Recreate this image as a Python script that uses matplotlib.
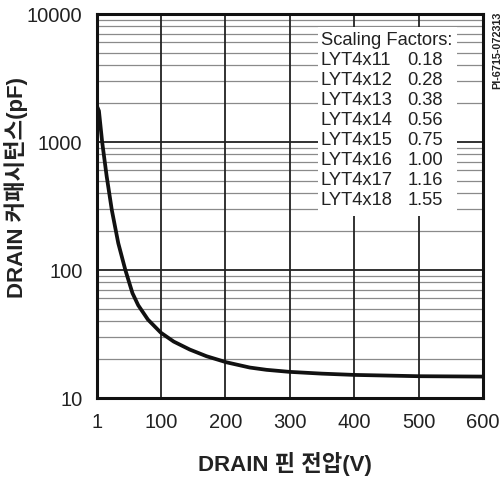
import matplotlib
matplotlib.use('Agg')
import matplotlib.pyplot as plt
from matplotlib.patches import Rectangle

# Curve (drain voltage V, capacitance pF)
voltage = [1, 4, 9, 16, 24, 34, 45, 56, 65, 80, 100, 120, 145, 171, 202, 238, 264, 300, 350, 400, 500, 600]
capacitance = [1900, 1750, 1000, 540, 294, 162, 100, 66, 53, 41, 32.4, 27.6, 23.9, 21.2, 19.0, 17.3, 16.6, 16.0, 15.5, 15.15, 14.8, 14.7]

x_ticks = [1, 100, 200, 300, 400, 500, 600]
y_ticks = [10, 100, 1000, 10000]

parts = ['LYT4x11', 'LYT4x12', 'LYT4x13', 'LYT4x14', 'LYT4x15', 'LYT4x16', 'LYT4x17', 'LYT4x18']
factors = ['0.18', '0.28', '0.38', '0.56', '0.75', '1.00', '1.16', '1.55']

LATIN = 'Liberation Sans'
KR = ['Liberation Sans', 'Noto Sans CJK KR']

fig = plt.figure(figsize=(5.03, 4.83), dpi=100)
ax = fig.add_axes([97 / 503, 85 / 483, 386 / 503, 384 / 483])

ax.set_yscale('log')
ax.set_xlim(1, 600)
ax.set_ylim(10, 10000)

# grid: minor log lines grey, decades and voltage lines black
for dec in [10, 100, 1000]:
    for m in range(2, 10):
        ax.axhline(dec * m, color='#8a8a8a', lw=0.9, zorder=1)
for dec in [100, 1000]:
    ax.axhline(dec, color='#222222', lw=1.3, zorder=1)
for xv in x_ticks[1:-1]:
    ax.axvline(xv, color='#222222', lw=1.3, zorder=1)

ax.plot(voltage, capacitance, color='#111111', lw=2.7, zorder=3,
        solid_capstyle='butt', solid_joinstyle='round')

# white box for the scaling factor table
ax.add_patch(Rectangle((0.573, 0.474), 0.36, 0.492, transform=ax.transAxes,
                       facecolor='white', edgecolor='none', zorder=2))
ax.text(0.58, 0.932, 'Scaling Factors:', transform=ax.transAxes, fontsize=13.2,
        family=LATIN, va='center', ha='left', color='#222222', zorder=4)
for i, (p, f) in enumerate(zip(parts, factors)):
    yy = 0.932 - (i + 1) * 0.0521
    ax.text(0.58, yy, p, transform=ax.transAxes, fontsize=13.2, family=LATIN,
            va='center', ha='left', color='#222222', zorder=4)
    ax.text(0.805, yy, f, transform=ax.transAxes, fontsize=13.2, family=LATIN,
            va='center', ha='left', color='#222222', zorder=4)

ax.set_xticks(x_ticks)
ax.set_xticklabels([str(v) for v in x_ticks])
ax.set_yticks(y_ticks)
ax.set_yticklabels([str(v) for v in y_ticks])
ax.minorticks_off()
ax.tick_params(axis='both', length=0, labelsize=14.5, colors='#222222')
ax.tick_params(axis='x', pad=10.5)
ax.tick_params(axis='y', pad=10.5)
for lab in ax.get_xticklabels() + ax.get_yticklabels():
    lab.set_family(LATIN)

for sp in ax.spines.values():
    sp.set_linewidth(2.2)
    sp.set_color('#111111')
    sp.set_zorder(5)

fig.text(285 / 503, 1 - 464 / 483, 'DRAIN 핀 전압(V)', family=KR, fontsize=16,
         fontweight='bold', ha='center', va='center', color='#222222')
fig.text(16 / 503, 1 - 187 / 483, 'DRAIN 커패시턴스(pF)', family=KR, fontsize=16,
         fontweight='bold', ha='center', va='center', rotation=90, color='#222222')
fig.text(497 / 503, 1 - 50 / 483, 'PI-6715-072313', family=LATIN, fontsize=7.8,
         fontweight='bold', ha='center', va='center', rotation=90, color='#222222')

fig.savefig('out.png', dpi=100)
